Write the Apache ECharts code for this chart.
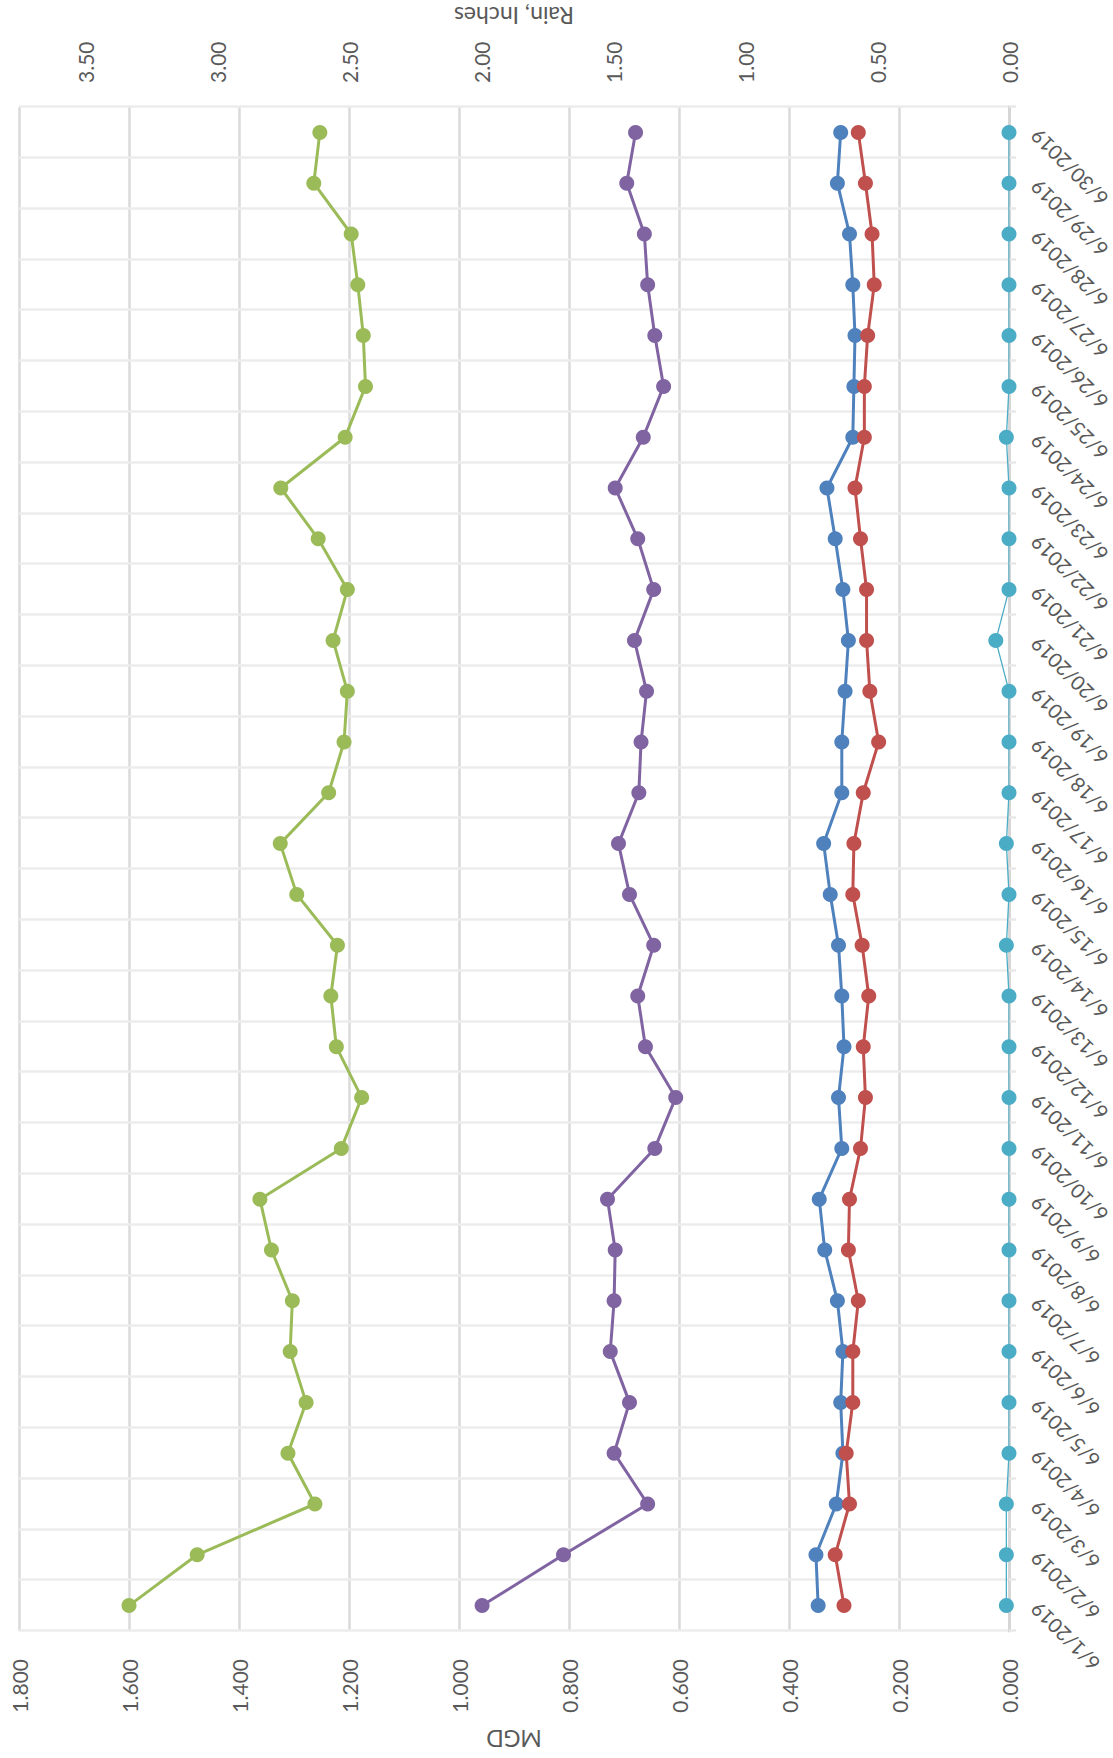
<!DOCTYPE html>
<html>
<head>
<meta charset="utf-8">
<title>Daily Flow and Rain, June 2019</title>
<script src="https://cdn.jsdelivr.net/npm/echarts@6/dist/echarts.min.js"></script>
<style>
  html, body { margin: 0; padding: 0; background: #ffffff; }
  body { width: 1113px; height: 1758px; overflow: hidden; position: relative; }
  /* the chart is laid out landscape and turned a quarter turn to stand upright on the page */
  #chart {
    position: absolute; left: 0; top: 0;
    width: 1758px; height: 1113px;
    transform-origin: 0 0;
    transform: translate(0, 1758px) rotate(-90deg);
  }
</style>
</head>
<body>
<div id="chart"></div>
<script>
// Dates on the category axis
const dates = [
  '6/1/2019', '6/2/2019', '6/3/2019', '6/4/2019', '6/5/2019', '6/6/2019',
  '6/7/2019', '6/8/2019', '6/9/2019', '6/10/2019', '6/11/2019', '6/12/2019',
  '6/13/2019', '6/14/2019', '6/15/2019', '6/16/2019', '6/17/2019', '6/18/2019',
  '6/19/2019', '6/20/2019', '6/21/2019', '6/22/2019', '6/23/2019', '6/24/2019',
  '6/25/2019', '6/26/2019', '6/27/2019', '6/28/2019', '6/29/2019', '6/30/2019'
];

// Daily flows, MGD
const flowBlue = [
  0.347, 0.351, 0.314, 0.302, 0.306, 0.302, 0.312, 0.335, 0.345, 0.304,
  0.310, 0.300, 0.304, 0.310, 0.325, 0.337, 0.304, 0.304, 0.298, 0.292,
  0.302, 0.316, 0.331, 0.284, 0.282, 0.280, 0.284, 0.290, 0.312, 0.306
];
const flowRed = [
  0.300, 0.316, 0.290, 0.296, 0.284, 0.284, 0.274, 0.292, 0.290, 0.270,
  0.261, 0.265, 0.255, 0.267, 0.284, 0.282, 0.265, 0.237, 0.253, 0.259,
  0.259, 0.270, 0.280, 0.263, 0.263, 0.257, 0.245, 0.249, 0.261, 0.274
];
const flowGreen = [
  1.600, 1.476, 1.262, 1.311, 1.278, 1.307, 1.303, 1.341, 1.362, 1.214,
  1.177, 1.223, 1.233, 1.221, 1.295, 1.325, 1.237, 1.209, 1.203, 1.229,
  1.203, 1.256, 1.324, 1.207, 1.170, 1.174, 1.184, 1.196, 1.264, 1.253
];
const flowPurple = [
  0.958, 0.810, 0.657, 0.718, 0.690, 0.725, 0.718, 0.716, 0.730, 0.644,
  0.606, 0.661, 0.675, 0.646, 0.690, 0.710, 0.673, 0.669, 0.659, 0.681,
  0.646, 0.675, 0.716, 0.665, 0.628, 0.644, 0.657, 0.663, 0.695, 0.679
];

// Daily rain, inches
const rain = [
  0.01, 0.01, 0.01, 0.00, 0.00, 0.00, 0.00, 0.00, 0.00, 0.00,
  0.00, 0.00, 0.00, 0.01, 0.00, 0.01, 0.00, 0.00, 0.00, 0.05,
  0.00, 0.00, 0.00, 0.01, 0.00, 0.00, 0.00, 0.00, 0.00, 0.00
];

// Axis scales
const mgdMax = 1.8, mgdStep = 0.2;
const rainMax = 3.75, rainStep = 0.5;

const FONT = 'Lato, "Open Sans", sans-serif';
const TEXT = '#595959';

const chart = echarts.init(document.getElementById('chart'), null, { renderer: 'svg' });

function flowSeries(data, color) {
  return {
    type: 'line',
    yAxisIndex: 0,
    data: data,
    symbol: 'circle',
    symbolSize: 15,
    lineStyle: { color: color, width: 3 },
    itemStyle: { color: color },
    emphasis: { disabled: true }
  };
}

chart.setOption({
  animation: false,
  backgroundColor: '#ffffff',
  textStyle: { fontFamily: FONT },
  grid: { left: 127, right: 107, top: 19, bottom: 104, outerBoundsMode: 'none' },
  xAxis: {
    type: 'category',
    data: dates,
    boundaryGap: true,
    axisLine: { show: true, lineStyle: { color: '#d6d6d6', width: 3 } },
    axisTick: { show: true, interval: 0, length: 7, lineStyle: { color: '#e8e8e8', width: 2.5 } },
    splitLine: { show: true, interval: 0, lineStyle: { color: '#ececec', width: 2.5 } },
    axisLabel: {
      interval: 0, rotate: 45, margin: 25,
      fontSize: 20, color: TEXT, fontFamily: FONT
    }
  },
  yAxis: [
    {
      type: 'value',
      position: 'left',
      min: 0, max: mgdMax, interval: mgdStep,
      name: 'MGD',
      nameLocation: 'middle',
      nameRotate: 90,
      nameGap: 96,
      nameTextStyle: { fontSize: 23, color: TEXT, fontFamily: FONT },
      axisLine: { show: false },
      axisTick: { show: false },
      splitLine: { show: true, lineStyle: { color: '#dadada', width: 2.5 } },
      axisLabel: {
        margin: 28, fontSize: 21, color: TEXT, fontFamily: FONT,
        formatter: v => v.toFixed(3)
      }
    },
    {
      type: 'value',
      position: 'right',
      min: 0, max: rainMax, interval: rainStep,
      name: 'Rain, Inches',
      nameLocation: 'middle',
      nameRotate: 90,
      nameGap: 80,
      nameTextStyle: { fontSize: 23, color: TEXT, fontFamily: FONT },
      axisLine: { show: false },
      axisTick: { show: false },
      splitLine: { show: false },
      axisLabel: {
        margin: 24, fontSize: 21, color: TEXT, fontFamily: FONT,
        showMaxLabel: false,
        formatter: v => (v > 3.5 + 1e-9 ? '' : v.toFixed(2))
      }
    }
  ],
  series: [
    flowSeries(flowBlue, '#4F81BD'),
    flowSeries(flowRed, '#C0504D'),
    flowSeries(flowGreen, '#9BBB59'),
    flowSeries(flowPurple, '#8064A2'),
    {
      type: 'line',
      yAxisIndex: 1,
      data: rain,
      symbol: 'circle',
      symbolSize: 15,
      lineStyle: { color: '#4BACC6', width: 1.3 },
      itemStyle: { color: '#4BACC6' },
      emphasis: { disabled: true }
    }
  ]
});
</script>
</body>
</html>
